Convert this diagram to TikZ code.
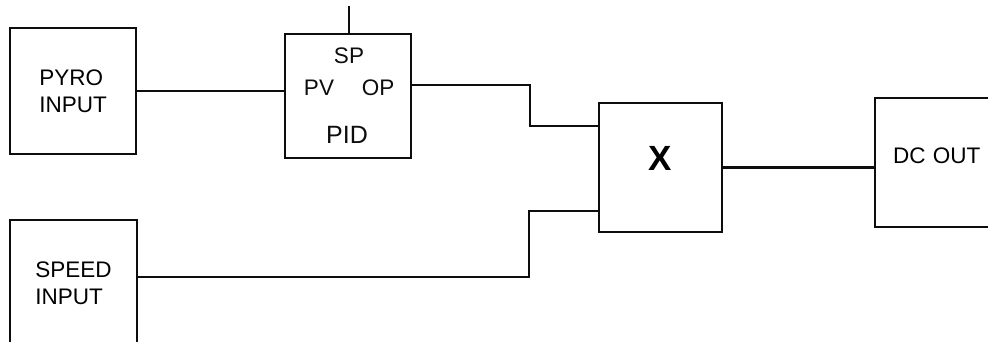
\documentclass[tikz,border=0pt]{standalone}
\usepackage{fontspec}
\setmainfont{Liberation Sans}
\usepackage{xcolor}
\usepackage{tikz}
\usetikzlibrary{positioning,calc}
\definecolor{ink}{gray}{0.05}
\tikzset{
  block/.style={draw=ink, line width=2.4pt, fill=white, align=left,
                inner sep=0pt, font=\fontsize{22.5}{27}\selectfont},
  wire/.style={draw=ink, line width=2.4pt},
  lbl/.style={font=\fontsize{22.5}{27}\selectfont, inner sep=0pt, anchor=base, text=ink},
}

\begin{document}
\begin{tikzpicture}[x=1pt,y=-1pt]
        \clip (0,0) rectangle (988,341);
        \fill[white] (0,0) rectangle (988,341);
        % blocks
        \node[block, minimum width=126pt, minimum height=126pt] (pyro) at (73,91) {PYRO\\INPUT};
        \node[block, minimum width=126pt, minimum height=124pt] (pid) at (348,96) {};
        \node[block, minimum width=127pt, minimum height=126pt] (speed) at (73.5,283) {SPEED\\INPUT};
        \node[block, minimum width=123pt, minimum height=129pt, text depth=19pt,
              font=\fontsize{35}{40}\selectfont\bfseries] (mult) at (660.5,167.5) {X};
        \node[block, minimum width=127pt, minimum height=129pt, text depth=13pt,
              text width=91pt] (dcout) at (938.5,162.5) {DC OUT};
        % controller terminals
        \node[lbl] (sp) at (349,63) {SP};
        \node[lbl] (pv) at (319,95) {PV};
        \node[lbl] (op) at (378,95) {OP};
        \node[lbl, font=\fontsize{25}{30}\selectfont] (pidname) at (347,143) {PID};
        % wiring
        \coordinate (spin) at (349,6);
        \coordinate (k1) at (530,126);
        \coordinate (k2) at (529,211);
        \draw[wire] (spin) -- (spin |- pid.north);
        \draw[wire] (pyro.east) -- (pyro.east -| pid.west);
        \draw[wire] ($(pid.east)+(0,-11)$) -| (k1) -- (k1 -| mult.west);
        \draw[wire] ($(speed.east)+(0,-6)$) -| (k2) -- (k2 -| mult.west);
        \draw[wire] (mult.east) -- (mult.east -| dcout.west);
      \end{tikzpicture}
\end{document}
